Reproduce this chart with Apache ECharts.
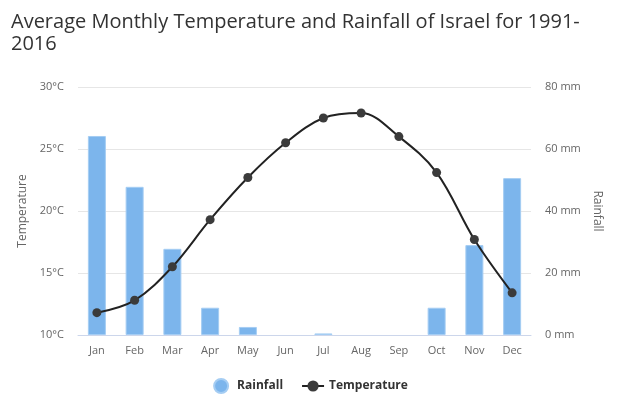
<!DOCTYPE html>
<html>
<head>
  <meta charset="utf-8">
  <script src="https://cdn.jsdelivr.net/npm/echarts@6.0.0/dist/echarts.min.js"></script>
  <style>
    body {
      margin: 0;
      padding: 0;
      background-color: white;
    }
    #main {
      width: 621px;
      height: 397px;
    }
  </style>
  <title>Israel Temperature and Rainfall</title>
</head>
<body>
<div id="main"></div>
<script>
  var months = ['Jan', 'Feb', 'Mar', 'Apr', 'May', 'Jun', 'Jul', 'Aug', 'Sep', 'Oct', 'Nov', 'Dec'];
  var rainfall = [64.2, 47.8, 27.8, 8.8, 2.6, 0, 0.5, 0, 0, 8.8, 29.0, 50.6];
  var temperature = [11.8, 12.8, 15.5, 19.3, 22.7, 25.5, 27.5, 27.9, 26.0, 23.1, 17.7, 13.4];

  var myChart = echarts.init(document.getElementById('main'));

  var labelStyle = { color: '#666', fontSize: 11, fontFamily: 'Open Sans' };

  // no border on empty months, otherwise a sliver shows up
  var rainBars = rainfall.map(function (v) {
    return v === 0 ? { value: v, itemStyle: { borderWidth: 0 } } : v;
  });

  myChart.setOption({
    animation: false,
    textStyle: { fontFamily: 'Open Sans' },
    title: {
      text: 'Average Monthly Temperature and Rainfall of Israel for 1991-\n2016',
      left: 6,
      top: 6,
      textStyle: {
        fontFamily: 'Open Sans',
        fontSize: 20,
        fontWeight: 'normal',
        color: '#333',
        lineHeight: 22
      }
    },
    legend: {
      bottom: -2,
      left: 'center',
      itemGap: 18,
      itemWidth: 22,
      itemHeight: 14,
      textStyle: { fontFamily: 'Open Sans', fontSize: 12, fontWeight: 'bold', color: '#333' },
      data: [
        { name: 'Rainfall', icon: 'circle' },
        { name: 'Temperature' }
      ]
    },
    grid: {
      left: 78,
      right: 90,
      top: 87,
      bottom: 62
    },
    xAxis: {
      type: 'category',
      data: months,
      axisLine: { lineStyle: { color: '#ccd6eb' } },
      axisTick: { show: false },
      axisLabel: Object.assign({ margin: 10 }, labelStyle)
    },
    yAxis: [
      {
        type: 'value',
        name: 'Temperature',
        nameLocation: 'middle',
        nameGap: 48,
        nameTextStyle: { color: '#666', fontSize: 12, fontFamily: 'Open Sans' },
        min: 10,
        max: 30,
        interval: 5,
        axisLabel: Object.assign({ formatter: '{value}°C', margin: 14 }, labelStyle),
        splitLine: { lineStyle: { color: '#e6e6e6' } }
      },
      {
        type: 'value',
        name: 'Rainfall',
        nameLocation: 'middle',
        nameRotate: -90,
        nameGap: 60,
        nameTextStyle: { color: '#666', fontSize: 12, fontFamily: 'Open Sans' },
        min: 0,
        max: 80,
        interval: 20,
        axisLabel: Object.assign({ formatter: '{value} mm', margin: 14 }, labelStyle),
        splitLine: { show: false }
      }
    ],
    series: [
      {
        name: 'Rainfall',
        type: 'bar',
        yAxisIndex: 1,
        barWidth: 18,
        itemStyle: { color: '#7cb5ec', borderColor: '#a5cdf3', borderWidth: 1 },
        data: rainBars
      },
      {
        name: 'Temperature',
        type: 'line',
        yAxisIndex: 0,
        smooth: 0.35,
        symbol: 'circle',
        symbolSize: 9,
        lineStyle: { color: '#222', width: 2 },
        itemStyle: { color: '#3b3b3b' },
        data: temperature
      }
    ]
  });
</script>
</body>
</html>
